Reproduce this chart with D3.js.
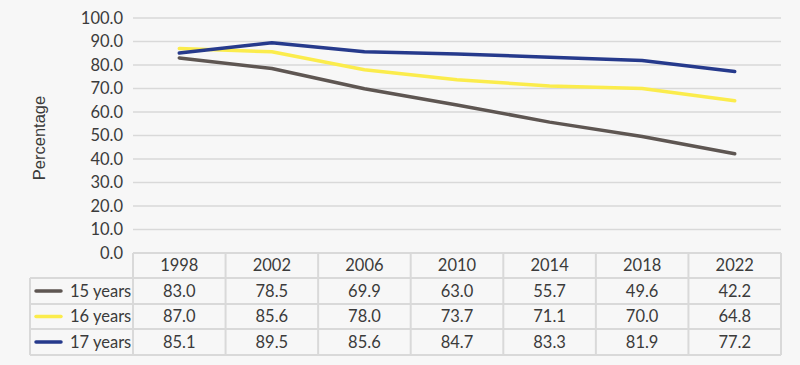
<!DOCTYPE html>
<html><head><meta charset="utf-8">
<script src="https://cdn.jsdelivr.net/npm/d3@7"></script>
<style>
html,body{margin:0;padding:0;background:#f7f7f7;}
svg{display:block;}
</style></head>
<body>
<svg id="chart" width="800" height="365"></svg>
<script>
const years = ["1998","2002","2006","2010","2014","2018","2022"];
const seriesNames = ["15 years","16 years","17 years"];
const values15 = [83.0,78.5,69.9,63.0,55.7,49.6,42.2];
const values16 = [87.0,85.6,78.0,73.7,71.1,70.0,64.8];
const values17 = [85.1,89.5,85.6,84.7,83.3,81.9,77.2];
const yTicks = [0,10,20,30,40,50,60,70,80,90,100];
const colors = ["#5e5652","#fbec4c","#263a8c"];

const series = [values15, values16, values17].map((v,i)=>({name:seriesNames[i], values:v, color:colors[i]}));

const svg = d3.select("#chart");
const pLeft = 133, pRight = 781, pTop = 18, pBottom = 253;
const x = d3.scaleBand().domain(years).range([pLeft,pRight]);
const y = d3.scaleLinear().domain([0,100]).range([pBottom,pTop]);
const font = "Lato, 'Noto Sans', sans-serif";
const txt = "#3b3b3b";
const grid = "#d9d9d9";

svg.append("rect").attr("width",800).attr("height",365).attr("fill","#f7f7f7");

// gridlines
svg.append("g").selectAll("line").data(yTicks).join("line")
  .attr("x1",pLeft).attr("x2",pRight)
  .attr("y1",d=>y(d)).attr("y2",d=>y(d))
  .attr("stroke",grid).attr("stroke-width",1.5);

// y axis labels
const yAxis = d3.axisLeft(y).tickValues(yTicks).tickFormat(d3.format(".1f")).tickSize(0).tickPadding(10);
const ya = svg.append("g").attr("transform",`translate(${pLeft},0)`).call(yAxis);
ya.select(".domain").remove();
ya.selectAll("text").attr("font-family",font).attr("font-size",16.5).attr("fill",txt);

svg.append("text").attr("transform","translate(45,138) rotate(-90)")
  .attr("text-anchor","middle").attr("font-family","'Liberation Sans', Arial, sans-serif")
  .attr("font-size",16.5).attr("fill",txt).text("Percentage");

// lines
const line = d3.line().x((d,i)=>x(years[i])+x.bandwidth()/2).y(d=>y(d));
svg.append("g").selectAll("path").data(series).join("path")
  .attr("d",d=>line(d.values)).attr("fill","none")
  .attr("stroke",d=>d.color).attr("stroke-width",3.5)
  .attr("stroke-linecap","round").attr("stroke-linejoin","round");

// table
const rowY = [253, 278, 304, 329, 355];
const tLeft = 30;
const tg = svg.append("g");
tg.append("line").attr("x1",pLeft).attr("x2",pRight).attr("y1",rowY[0]).attr("y2",rowY[0]).attr("stroke",grid).attr("stroke-width",2);
rowY.slice(1).forEach(yy=>{
  tg.append("line").attr("x1",tLeft).attr("x2",pRight).attr("y1",yy).attr("y2",yy).attr("stroke",grid).attr("stroke-width",2);
});
tg.append("line").attr("x1",tLeft).attr("x2",tLeft).attr("y1",rowY[1]).attr("y2",rowY[4]).attr("stroke",grid).attr("stroke-width",2);
years.forEach(yr=>{
  tg.append("line").attr("x1",x(yr)).attr("x2",x(yr)).attr("y1",rowY[0]).attr("y2",rowY[4]).attr("stroke",grid).attr("stroke-width",2);
});
tg.append("line").attr("x1",pRight).attr("x2",pRight).attr("y1",rowY[0]).attr("y2",rowY[4]).attr("stroke",grid).attr("stroke-width",2);

tg.selectAll("text.hdr").data(years).join("text").attr("class","hdr")
  .attr("x",d=>x(d)+x.bandwidth()/2).attr("y",(rowY[0]+rowY[1])/2)
  .attr("dy","0.36em").attr("text-anchor","middle")
  .attr("font-family",font).attr("font-size",16.5).attr("fill",txt).text(d=>d);

series.forEach((s,si)=>{
  const cy = (rowY[si+1]+rowY[si+2])/2;
  tg.append("line").attr("x1",36).attr("x2",61).attr("y1",cy).attr("y2",cy)
    .attr("stroke",s.color).attr("stroke-width",3.5).attr("stroke-linecap","round");
  tg.append("text").attr("x",70).attr("y",cy).attr("dy","0.36em")
    .attr("font-family",font).attr("font-size",16.5).attr("fill",txt).text(s.name);
  tg.selectAll(null).data(s.values).join("text")
    .attr("x",(d,i)=>x(years[i])+x.bandwidth()/2).attr("y",cy).attr("dy","0.36em")
    .attr("text-anchor","middle").attr("font-family",font).attr("font-size",16.5).attr("fill",txt)
    .text(d=>d3.format(".1f")(d));
});
</script>
</body></html>
